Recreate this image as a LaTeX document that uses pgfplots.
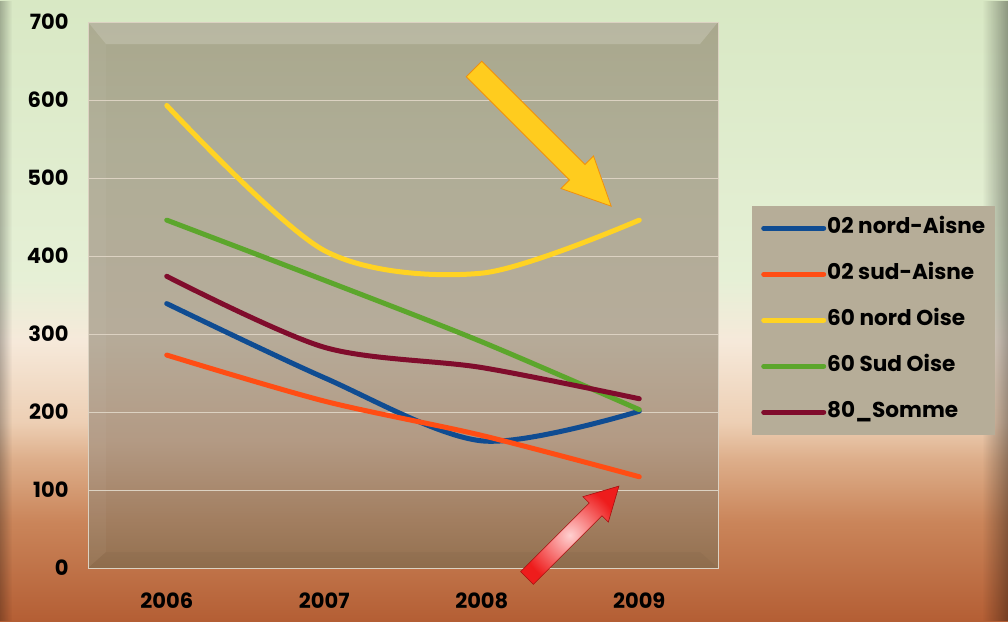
\documentclass[border=0pt]{standalone}
\usepackage{fontspec}
\setmainfont{Poppins}
\usepackage{pgfplots}
\pgfplotsset{compat=1.18}
\usetikzlibrary{fadings}

\definecolor{bgA}{HTML}{B45E34}
\definecolor{bgB}{HTML}{CA855A}
\definecolor{bgC}{HTML}{DDAE8A}
\definecolor{bgD}{HTML}{EDCFB4}
\definecolor{bgE}{HTML}{F6E9DA}
\definecolor{bgF}{HTML}{E6F0D6}
\definecolor{bgG}{HTML}{D8E8C4}

\definecolor{plA}{HTML}{93704F}
\definecolor{plB}{HTML}{A27E60}
\definecolor{plC}{HTML}{B39A84}
\definecolor{plD}{HTML}{B6AC9A}
\definecolor{plE}{HTML}{AFAD96}
\definecolor{plF}{HTML}{A9A88D}

\definecolor{legfill}{HTML}{B6AD98}
\definecolor{cblue}{HTML}{0F4C92}
\definecolor{corange}{HTML}{FF4D14}
\definecolor{cyellow}{HTML}{FFD323}
\definecolor{cgreen}{HTML}{5CA62C}
\definecolor{cmaroon}{HTML}{800C2C}
\definecolor{arrY}{HTML}{FFCC1E}
\definecolor{arrYd}{HTML}{F0900F}
\definecolor{arrR}{HTML}{EE1C1C}
\definecolor{arrRl}{HTML}{FFD0D0}
\definecolor{arrRd}{HTML}{A80E0E}
\definecolor{gridc}{HTML}{DCD2C2}

\pgfdeclareverticalshading{bgshade}{100bp}{color(0bp)=(bgA); color(25bp)=(bgA); color(33bp)=(bgB); color(38bp)=(bgC); color(41bp)=(bgD); color(47.5bp)=(bgE); color(52.5bp)=(bgF); color(75bp)=(bgG); color(100bp)=(bgG)}
\pgfdeclareverticalshading{plotshade}{100bp}{color(0bp)=(plA); color(25bp)=(plA); color(29.4bp)=(plB); color(36.7bp)=(plC); color(46.8bp)=(plD); color(63.3bp)=(plE); color(75bp)=(plF); color(100bp)=(plF)}

\pgfplotstableread{
x y
0 339
1 244
2 163
3 201
}\nordAisne
\pgfplotstableread{
x y
0 273
1 214
2 170
3 117
}\sudAisne
\pgfplotstableread{
x y
0 593
1 407
2 378
3 446
}\nordOise
\pgfplotstableread{
x y
0 446
1 369
2 290
3 203
}\sudOise
\pgfplotstableread{
x y
0 374
1 283
2 257
3 217
}\somme

\begin{document}
\begin{tikzpicture}
\useasboundingbox (0,0) rectangle (1008pt,-621pt);
\shade[shading=bgshade] (0,0) rectangle (1008pt,-621pt);
% dark edges
\fill[black, opacity=0.35, path fading=west] (982pt,0) rectangle (1008pt,-621pt);
\fill[black, opacity=0.25, path fading=east] (0,0) rectangle (12pt,-621pt);
% plot area
\shade[shading=plotshade] (88pt,-22pt) rectangle (718pt,-568pt);
\fill[white, opacity=0.18] (88pt,-22pt) -- (718pt,-22pt) -- (700pt,-44pt) -- (106pt,-44pt) -- cycle;
\fill[white, opacity=0.04] (88pt,-22pt) -- (106pt,-44pt) -- (106pt,-552pt) -- (88pt,-568pt) -- cycle;
\fill[black, opacity=0.03] (88pt,-568pt) -- (106pt,-552pt) -- (700pt,-552pt) -- (718pt,-568pt) -- cycle;
\begin{axis}[
  at={(88pt,-568pt)}, anchor=south west,
  scale only axis, width=630pt, height=546pt,
  xmin=-0.5, xmax=3.5, ymin=0, ymax=700,
  xtick={0,1,2,3}, xticklabels={2006,2007,2008,2009},
  ytick={0,100,...,700},
  major tick length=0pt,
  ymajorgrids, grid style={draw=gridc, line width=0.9pt},
  axis line style={draw=gridc, line width=1pt},
  tick label style={font=\fontsize{21}{23}\selectfont\bfseries},
  /pgf/number format/assume math mode=true,
  yticklabel style={xshift=-16pt},
  xticklabel style={yshift=-21pt},
  clip=false,
  legend style={at={(1.054,0.664)}, anchor=north west, fill=legfill, draw=none,
    font=\fontsize{21.6}{24}\selectfont\bfseries, inner xsep=9pt, inner ysep=12pt, row sep=25pt,
    nodes={inner sep=1pt, text height=15pt, text depth=4pt},
    /tikz/every even column/.append style={column sep=0pt}},
  legend cell align=left,
  legend image code/.code={\draw[line width=5pt, line cap=round] (0pt,0pt) -- (60pt,0pt);},
  every axis plot/.append style={line width=5pt, line cap=round, smooth, tension=0.5, no markers},
]
\addplot[cblue] table {\nordAisne};
\addlegendentry{02 nord-Aisne}
\addplot[corange] table {\sudAisne};
\addlegendentry{02 sud-Aisne}
\addplot[cyellow] table {\nordOise};
\addlegendentry{60 nord Oise}
\addplot[cgreen] table {\sudOise};
\addlegendentry{60 Sud Oise}
\addplot[cmaroon] table {\somme};
\addlegendentry{80\_Somme}
\end{axis}
% annotation arrows
\begin{scope}[shift={(474pt,-69pt)}, rotate=-45]
\filldraw[draw=arrYd, fill=arrY, line width=0.8pt, line join=miter]
  (0pt,-11pt) -- (146pt,-11pt) -- (146pt,-23pt) -- (194pt,0pt) -- (146pt,23pt) -- (146pt,11pt) -- (0pt,11pt) -- cycle;
\end{scope}
\begin{scope}[shift={(527pt,-578pt)}, rotate=45]
\shade[shading=radial, inner color=arrRl, outer color=arrR]
  (0pt,-9pt) -- (97pt,-9pt) -- (97pt,-18pt) -- (130pt,0pt) -- (97pt,18pt) -- (97pt,9pt) -- (0pt,9pt) -- cycle;
\draw[draw=arrRd, line width=0.6pt, line join=miter]
  (0pt,-9pt) -- (97pt,-9pt) -- (97pt,-18pt) -- (130pt,0pt) -- (97pt,18pt) -- (97pt,9pt) -- (0pt,9pt) -- cycle;
\end{scope}
\end{tikzpicture}
\end{document}
